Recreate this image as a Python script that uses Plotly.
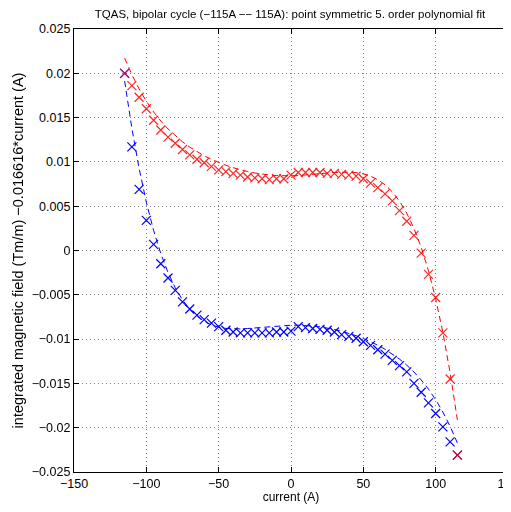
import numpy as np
import plotly.graph_objects as go

current = list(range(-115, 120, 5))

red_field = [0.0200, 0.0186, 0.0173, 0.0160, 0.0147, 0.0136, 0.0128, 0.0121, 0.0114, 0.0108,
             0.0103, 0.0099, 0.0095, 0.0091, 0.0089, 0.0087, 0.0085, 0.0083, 0.0082, 0.0081,
             0.0080, 0.0081, 0.0081, 0.0085, 0.0088, 0.0088, 0.0088, 0.0088, 0.0087, 0.0087,
             0.0086, 0.0085, 0.0084, 0.0081, 0.0076, 0.0071, 0.0064, 0.0056, 0.0045, 0.0033,
             0.0017, -0.0003, -0.0027, -0.0053, -0.0093, -0.0145, -0.0231]

blue_field = [0.0200, 0.0117, 0.0069, 0.0034, 0.0007, -0.0015, -0.0031, -0.0045, -0.0058, -0.0066,
              -0.0073, -0.0078, -0.0082, -0.0086, -0.0090, -0.0092, -0.0093, -0.0093, -0.0093, -0.0093,
              -0.0093, -0.0092, -0.0092, -0.0091, -0.0086, -0.0087, -0.0088, -0.0089, -0.0090, -0.0092,
              -0.0095, -0.0097, -0.0099, -0.0103, -0.0107, -0.0112, -0.0117, -0.0124, -0.0130, -0.0137,
              -0.0150, -0.0160, -0.0172, -0.0184, -0.0199, -0.0216, -0.0231]

x_ticks = [-150, -100, -50, 0, 50, 100, 150]
x_labels = ["\u2212150", "\u2212100", "\u221250", "0", "50", "100", "150"]
y_ticks = [0.025, 0.02, 0.015, 0.01, 0.005, 0, -0.005, -0.01, -0.015, -0.02, -0.025]
y_labels = ["0.025", "0.02", "0.015", "0.01", "0.005", "0", "\u22120.005", "\u22120.01",
            "\u22120.015", "\u22120.02", "\u22120.025"]

# point symmetric 5th order polynomial fit: red(x) = f(x), blue(x) = -f(-x)
# (the shared turning points of the cycle are counted once, with the red branch)
xa = np.array(current, dtype=float)
xs = np.concatenate([xa, -xa[1:-1]])
ys = np.concatenate([np.array(red_field), -np.array(blue_field)[1:-1]])
coef = np.polyfit(xs, ys, 5)
red_fit = np.polyval(coef, xa)
blue_fit = -np.polyval(coef, -xa)

FONT = "Liberation Sans, Arial, Helvetica"

fig = go.Figure()
fig.add_trace(go.Scatter(x=current, y=blue_fit, mode="lines",
                         line=dict(color="#0000ff", width=1, dash="6px,4px"), showlegend=False))
fig.add_trace(go.Scatter(x=current, y=blue_field, mode="markers",
                         marker=dict(symbol="x-thin", size=9, line=dict(color="#0000ff", width=1.2)),
                         showlegend=False))
fig.add_trace(go.Scatter(x=current, y=red_fit, mode="lines",
                         line=dict(color="#ff0000", width=1, dash="6px,4px"), showlegend=False))
fig.add_trace(go.Scatter(x=current, y=red_field, mode="markers",
                         marker=dict(symbol="x-thin", size=9, line=dict(color="#ff0000", width=1.2)),
                         opacity=0.85, showlegend=False))

axis_common = dict(showline=True, linecolor="black", linewidth=1.3, mirror="ticks",
                   ticks="inside", ticklen=5, tickcolor="black", tickwidth=1,
                   showgrid=True, gridcolor="#808080", griddash="1px,3px", gridwidth=1,
                   zeroline=False, automargin=False, ticklabeloverflow="allow",
                   tickfont=dict(family=FONT, size=12.5, color="black"))

# the page body adds an 8px offset; the figure is placed so the axes match the reference
fig.update_layout(
    width=511, height=496,
    margin=dict(l=65.5, r=10.5, t=21, b=32),
    paper_bgcolor="white", plot_bgcolor="white",
    title=dict(text="TQAS, bipolar cycle (\u2212115A \u2212\u2212 115A): point symmetric 5. order polynomial fit",
               x=282 / 511, xanchor="center", y=1 - 5.5 / 496, yanchor="middle",
               font=dict(family=FONT, size=11.5, color="black")),
    xaxis=dict(range=[-150, 150], tickvals=x_ticks, ticktext=x_labels,
               title=dict(text="current (A)", standoff=3,
                          font=dict(family=FONT, size=12, color="black")),
               **axis_common),
    yaxis=dict(range=[-0.025, 0.025], tickvals=y_ticks, ticktext=y_labels,
               title=dict(text="integrated magnetic field (Tm/m) \u22120.016616*current (A)", standoff=4,
                          font=dict(family=FONT, size=14.5, color="black")),
               **axis_common),
)

fig.write_html("out.html")
